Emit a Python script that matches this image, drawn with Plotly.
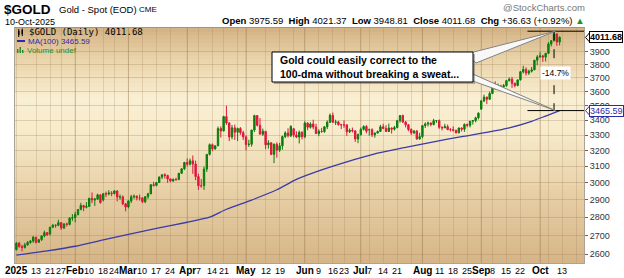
import math
import pandas as pd
import plotly.graph_objects as go

# ---------------- DATA ----------------
holidays = ["2025-01-20", "2025-02-17", "2025-04-18", "2025-05-26",
            "2025-06-19", "2025-07-04", "2025-09-01"]

opens = [
    2624, 2658, 2640, 2636, 2649, 2662, 2670, 2690, 2663, 2677, 2697, 2715, 2708, 2745, 2755, 2755, 2770, 2740, 2763, 2760, 2795,
    2798, 2815, 2843, 2866, 2856, 2861, 2908, 2898, 2903, 2928, 2898, 2935, 2933, 2939, 2936, 2951, 2915, 2916, 2876,
    2858, 2893, 2917, 2920, 2910, 2910, 2888, 2917, 2934, 2988, 2984, 3001, 3034, 3048, 3044, 3023, 3011, 3020, 3019, 3057, 3085,
    3124, 3113, 3134, 3114, 3037, 2982, 2982, 3083, 3175, 3237, 3210, 3230, 3343, 3327, 3424, 3381, 3288, 3348, 3319, 3344, 3316,
    3288, 3238, 3240, 3333, 3431, 3365, 3306, 3325, 3236, 3249, 3175, 3240, 3202, 3230, 3290, 3314, 3295, 3342, 3300, 3287, 3318,
    3289, 3380, 3352, 3374, 3353, 3310, 3325, 3323, 3355, 3386, 3433, 3385, 3388, 3370, 3368, 3368, 3322, 3332, 3328, 3274,
    3303, 3338, 3357, 3336, 3336, 3302, 3313, 3324, 3355, 3344, 3324, 3347, 3339, 3350, 3396, 3431, 3387, 3368, 3337, 3314, 3326, 3275,
    3290, 3363, 3374, 3380, 3370, 3396, 3397, 3352, 3348, 3356, 3336, 3336, 3332, 3315, 3347, 3339, 3371, 3365, 3393, 3397, 3416,
    3476, 3533, 3560, 3545, 3586, 3636, 3627, 3640, 3634, 3643, 3679, 3690, 3660, 3644, 3685, 3746, 3763, 3736, 3749, 3760, 3833,
    3858, 3866, 3857, 3886, 3960, 3985, 4040, 3975.59,
]
highs = [
    2665, 2665, 2650, 2660, 2670, 2675, 2697, 2692, 2680, 2700, 2726, 2718, 2746, 2763, 2760, 2786, 2772, 2765, 2770, 2800, 2817,
    2830, 2845, 2882, 2870, 2886, 2910, 2942, 2910, 2935, 2930, 2938, 2947, 2955, 2950, 2956, 2955, 2930, 2925, 2880,
    2895, 2928, 2930, 2925, 2930, 2915, 2921, 2940, 2990, 3005, 3002, 3038, 3050, 3057, 3048, 3025, 3025, 3030, 3060, 3087, 3128,
    3149, 3148, 3168, 3136, 3055, 3022, 3099, 3177, 3245, 3245, 3233, 3357, 3358, 3430, 3500, 3386, 3367, 3370, 3350, 3353, 3328,
    3297, 3269, 3335, 3437, 3435, 3414, 3343, 3325, 3266, 3253, 3245, 3252, 3249, 3296, 3325, 3345, 3366, 3345, 3325, 3330, 3325,
    3392, 3385, 3385, 3403, 3375, 3338, 3348, 3360, 3398, 3446, 3452, 3403, 3395, 3375, 3398, 3370, 3344, 3350, 3330, 3310,
    3350, 3365, 3366, 3343, 3345, 3317, 3330, 3368, 3375, 3366, 3377, 3350, 3361, 3402, 3434, 3438, 3395, 3373, 3345, 3334, 3334, 3315,
    3363, 3385, 3390, 3385, 3409, 3400, 3405, 3358, 3375, 3370, 3346, 3358, 3335, 3350, 3351, 3378, 3376, 3394, 3398, 3423, 3453,
    3540, 3578, 3564, 3600, 3643, 3674, 3658, 3649, 3655, 3685, 3703, 3707, 3665, 3687, 3749, 3791, 3779, 3761, 3782, 3835, 3872,
    3895, 3875, 3889, 3975, 3990, 4062, 4045, 4021.37,
]
lows = [
    2620, 2635, 2615, 2630, 2645, 2655, 2660, 2656, 2660, 2670, 2690, 2697, 2700, 2740, 2742, 2750, 2730, 2735, 2748, 2755, 2780,
    2772, 2810, 2840, 2834, 2850, 2858, 2880, 2864, 2900, 2877, 2890, 2915, 2925, 2920, 2930, 2890, 2900, 2868, 2833,
    2850, 2880, 2905, 2896, 2895, 2880, 2880, 2905, 2932, 2977, 2978, 2999, 3022, 3025, 2999, 3003, 3005, 3011, 3015, 3055, 3077,
    3100, 3106, 3054, 3015, 2957, 2970, 2957, 3065, 3168, 3195, 3205, 3228, 3284, 3325, 3368, 3260, 3272, 3268, 3261, 3302, 3268,
    3202, 3223, 3225, 3320, 3357, 3306, 3295, 3208, 3212, 3170, 3120, 3154, 3190, 3205, 3280, 3285, 3287, 3285, 3280, 3245, 3272,
    3280, 3332, 3343, 3338, 3307, 3293, 3315, 3315, 3340, 3380, 3383, 3367, 3362, 3340, 3348, 3295, 3313, 3317, 3255, 3247,
    3297, 3330, 3311, 3296, 3287, 3283, 3310, 3320, 3340, 3320, 3320, 3310, 3330, 3345, 3383, 3381, 3351, 3325, 3301, 3308, 3268, 3270,
    3280, 3347, 3357, 3358, 3365, 3381, 3341, 3331, 3347, 3333, 3324, 3323, 3311, 3312, 3324, 3321, 3352, 3351, 3370, 3385, 3405,
    3470, 3525, 3511, 3540, 3581, 3613, 3620, 3613, 3630, 3635, 3675, 3627, 3630, 3638, 3681, 3732, 3717, 3722, 3740, 3758, 3794,
    3852, 3820, 3823, 3880, 3940, 3980, 3945, 3948.81,
]
closes = [
    2658, 2640, 2636, 2649, 2662, 2670, 2690, 2663, 2677, 2697, 2715, 2703, 2745, 2755, 2755, 2770, 2740, 2763, 2760, 2795, 2798,
    2815, 2843, 2866, 2856, 2861, 2908, 2898, 2903, 2928, 2883, 2935, 2933, 2939, 2936, 2951, 2915, 2916, 2876, 2858,
    2893, 2917, 2920, 2910, 2910, 2888, 2917, 2934, 2988, 2984, 3001, 3034, 3048, 3044, 3023, 3011, 3020, 3019, 3057, 3085, 3124,
    3113, 3134, 3114, 3037, 2982, 2982, 3083, 3175, 3237, 3210, 3230, 3343, 3327, 3424, 3381, 3288, 3348, 3319, 3344, 3316, 3288,
    3238, 3240, 3333, 3431, 3365, 3306, 3325, 3236, 3249, 3175, 3240, 3202, 3230, 3290, 3314, 3295, 3357, 3300, 3287, 3318, 3289,
    3380, 3352, 3374, 3353, 3310, 3325, 3323, 3355, 3386, 3433, 3385, 3388, 3370, 3368, 3368, 3322, 3332, 3328, 3274, 3303,
    3338, 3357, 3326, 3336, 3302, 3313, 3324, 3355, 3344, 3324, 3347, 3339, 3350, 3396, 3431, 3387, 3368, 3337, 3314, 3326, 3275, 3290,
    3363, 3374, 3380, 3370, 3396, 3397, 3352, 3348, 3356, 3336, 3336, 3332, 3315, 3347, 3339, 3371, 3365, 3393, 3397, 3416, 3448,
    3533, 3560, 3545, 3586, 3636, 3627, 3640, 3634, 3643, 3679, 3690, 3660, 3644, 3685, 3746, 3763, 3736, 3749, 3760, 3833, 3858,
    3866, 3857, 3886, 3960, 3985, 4040, 3975.05, 4011.68,
]

ma_dates = ["2025-01-02", "2025-01-17", "2025-02-03", "2025-02-18", "2025-03-03", "2025-03-17",
            "2025-04-01", "2025-04-11", "2025-04-22", "2025-05-05", "2025-05-16", "2025-05-28",
            "2025-06-10", "2025-06-24", "2025-07-09", "2025-07-24", "2025-08-07", "2025-08-21",
            "2025-09-04", "2025-09-16", "2025-09-26", "2025-10-03", "2025-10-10"]
ma_values = [2596, 2618, 2642, 2676, 2705, 2738, 2772, 2800, 2845, 2898, 2958, 3020,
             3078, 3128, 3178, 3220, 3256, 3290, 3318, 3348, 3392, 3428, 3465.59]

tick_dates = ["2025-01-02", "2025-01-13", "2025-01-21", "2025-01-27", "2025-02-03", "2025-02-10",
              "2025-02-18", "2025-02-24", "2025-03-03", "2025-03-10", "2025-03-17", "2025-03-24",
              "2025-04-01", "2025-04-07", "2025-04-14", "2025-04-21", "2025-05-01", "2025-05-12",
              "2025-05-19", "2025-06-02", "2025-06-09", "2025-06-16", "2025-06-23", "2025-07-01",
              "2025-07-07", "2025-07-14", "2025-07-21", "2025-08-01", "2025-08-11", "2025-08-18",
              "2025-08-25", "2025-09-02", "2025-09-08", "2025-09-15", "2025-09-22", "2025-10-01",
              "2025-10-13"]
tick_texts = ["2025", "13", "21", "27", "Feb", "10", "18", "24", "Mar", "10", "17", "24",
              "Apr", "7", "14", "21", "May", "12", "19", "Jun", "9", "16", "23",
              "Jul", "7", "14", "21", "Aug", "11", "18", "25", "Sep", "8", "15", "22",
              "Oct", "13"]
y_ticks = [2600, 2700, 2800, 2900, 3000, 3100, 3200, 3300, 3400, 3500, 3600, 3700, 3800, 3900]

# ---------------- INDEXING ----------------
trading_days = [d.strftime("%Y-%m-%d") for d in pd.bdate_range("2025-01-02", "2025-10-24")
                if d.strftime("%Y-%m-%d") not in holidays]
pos = {d: i for i, d in enumerate(trading_days)}
n = len(closes)
assert len(opens) == len(highs) == len(lows) == n
xs = list(range(n))

# ---------------- GEOMETRY ----------------
W, H = 624, 278
ML, MR, MT, MB = 15, 40, 28, 15
PW, PH = W - ML - MR, H - MT - MB
X0, X1 = -0.5, 202.7
Y0, Y1 = 2555.0, 4088.0
LY0, LY1 = math.log10(Y0), math.log10(Y1)


def px2x(px):          # pixel column -> x data (linear index axis)
    return X0 + (px - ML) / PW * (X1 - X0)


def pxp(px):           # pixel column -> paper x
    return (px - ML) / PW


def pyp(py):           # pixel row -> paper y
    return (H - MB - py) / PH


def vyp(v):            # price value -> paper y (log axis)
    return (math.log10(v) - LY0) / (LY1 - LY0)


FONT = "Liberation Sans, Arial, sans-serif"
MONO = "DejaVu Sans Mono, monospace"

fig = go.Figure()
fig.add_trace(go.Candlestick(
    x=xs, open=opens, high=highs, low=lows, close=closes,
    increasing=dict(line=dict(color="#0a7d0a", width=1), fillcolor="#0a7d0a"),
    decreasing=dict(line=dict(color="#e0163c", width=1), fillcolor="#e0163c"),
    whiskerwidth=0, hoverinfo="skip", showlegend=False,
))
fig.add_trace(go.Scatter(
    x=[pos[d] for d in ma_dates], y=ma_values, mode="lines", line_shape="spline",
    line=dict(color="#3b3ba6", width=1.3, smoothing=0.6), hoverinfo="skip", showlegend=False,
))

shapes = []
# gradient background bands
stops = [(0.0, (211, 178, 131)), (0.12, (232, 209, 167)), (0.3, (249, 239, 210)),
         (0.45, (247, 235, 203)), (0.7, (231, 207, 166)), (1.0, (213, 181, 135))]


def shade(f):
    for (a, ca), (b, cb) in zip(stops[:-1], stops[1:]):
        if a <= f <= b:
            t = (f - a) / (b - a)
            return tuple(round(ca[k] + (cb[k] - ca[k]) * t) for k in range(3))
    return stops[-1][1]


NB = 60
for i in range(NB):
    f = 1 - (i + 0.5) / NB
    c = shade(f)
    shapes.append(dict(type="rect", xref="paper", yref="paper", x0=0, x1=1,
                       y0=i / NB, y1=(i + 1) / NB + 0.002, line=dict(width=0),
                       fillcolor="rgb(%d,%d,%d)" % c, layer="below"))

# weekly & monthly gridlines
week_starts, month_starts = [], []
prev = None
for i, d in enumerate(trading_days):
    dt = pd.Timestamp(d)
    if prev is None or dt.isocalendar()[1] != prev.isocalendar()[1]:
        week_starts.append(i)
    if prev is None or dt.month != prev.month:
        month_starts.append(i)
    prev = dt
grid_x = sorted(set(month_starts) | {w for w in week_starts
                                      if all(abs(w - m) > 2 for m in month_starts)})
grid_x = [g for g in grid_x if g <= X1]
for m in month_starts:
    if 0 < m <= X1:
        shapes.append(dict(type="line", xref="x", yref="paper", x0=m, x1=m, y0=0, y1=1,
                           line=dict(color="rgba(140,105,60,0.30)", width=1), layer="below"))

# measurement lines
i_high = max(range(n), key=lambda i: highs[i])
hi = highs[i_high]
ma_last = ma_values[-1]
x_line0 = i_high - 9.5
shapes.append(dict(type="line", xref="x", yref="paper", x0=x_line0, x1=X1,
                   y0=vyp(hi), y1=vyp(hi), line=dict(color="black", width=1)))
shapes.append(dict(type="line", xref="x", yref="paper", x0=x_line0, x1=X1,
                   y0=vyp(ma_last), y1=vyp(ma_last), line=dict(color="black", width=1)))
shapes.append(dict(type="line", xref="x", yref="paper", x0=i_high, x1=i_high,
                   y0=vyp(hi), y1=vyp(ma_last),
                   line=dict(color="black", width=1, dash="dash")))


def path(pts):
    return "M " + " L ".join("%f,%f" % p for p in pts) + " Z"


# callout wedges
tip_x = i_high + 0.5
shapes.append(dict(type="path", xref="x", yref="paper",
                   path=path([(px2x(466), pyp(54)), (tip_x, vyp(hi)), (px2x(476), pyp(63))]),
                   fillcolor="rgb(248,248,248)", line=dict(color="rgb(130,130,130)", width=1)))
shapes.append(dict(type="path", xref="x", yref="paper",
                   path=path([(px2x(466), pyp(71)), (tip_x, vyp(ma_last)), (px2x(470), pyp(80))]),
                   fillcolor="rgb(248,248,248)", line=dict(color="rgb(130,130,130)", width=1)))
# callout box + shadow
shapes.append(dict(type="rect", xref="x", yref="paper", x0=px2x(274), x1=px2x(475),
                   y0=pyp(84), y1=pyp(54), fillcolor="rgba(90,90,90,0.45)", line=dict(width=0)))
shapes.append(dict(type="rect", xref="x", yref="paper", x0=px2x(272), x1=px2x(473),
                   y0=pyp(82), y1=pyp(52), fillcolor="white", line=dict(color="black", width=1)))

# legend icons (top-left)
shapes.append(dict(type="line", xref="paper", yref="paper", x0=pxp(17), x1=pxp(25), y0=pyp(41), y1=pyp(41),
                   line=dict(color="#2b2bab", width=2)))
for k, hgt in enumerate([4, 6, 3]):
    shapes.append(dict(type="rect", xref="paper", yref="paper", x0=pxp(17 + 2.5 * k), x1=pxp(18.5 + 2.5 * k),
                       y0=pyp(53), y1=pyp(53 - hgt), fillcolor="#2e8b2e", line=dict(width=0)))
for k, (a, b, c, d) in enumerate([(29, 37, 31, 35), (28.5, 36, 30, 34)]):
    xx = 18 + 3.5 * k
    shapes.append(dict(type="line", xref="paper", yref="paper", x0=pxp(xx + 0.75), x1=pxp(xx + 0.75),
                       y0=pyp(a), y1=pyp(b), line=dict(color="black", width=1)))
    shapes.append(dict(type="rect", xref="paper", yref="paper", x0=pxp(xx), x1=pxp(xx + 1.5),
                       y0=pyp(c), y1=pyp(d), fillcolor="black", line=dict(width=0)))

# right price label notches
for val, col in [(closes[-1], "black"), (ma_last, "#2b2bab")]:
    yc = vyp(val)
    dy = 4.5 / PH
    shapes.append(dict(type="path", xref="paper", yref="paper",
                       path=path([(pxp(589.5), yc + dy), (pxp(585.5), yc), (pxp(589.5), yc - dy)]),
                       fillcolor="white", line=dict(color=col, width=1)))

anns = []


def ann(text, px, py, size, color="black", xanchor="left", family=FONT, **kw):
    anns.append(dict(text=text, x=pxp(px), y=pyp(py), xref="paper", yref="paper",
                     xanchor=xanchor, yanchor="middle", showarrow=False,
                     font=dict(size=size, color=color, family=family), **kw))


ann("<b>$GOLD</b>", 2, 9.5, 13.5)
ann("Gold - Spot (EOD)", 57, 9.5, 9.5)
ann("CME", 137, 10, 8)
ann("10-Oct-2025", 3, 22, 9)
chg = closes[-1] - closes[-2]
pct = chg / closes[-2] * 100
ann("<b>Open</b> %.2f  <b>High</b> %.2f  <b>Low</b> %.2f  <b>Close</b> %.2f  <b>Chg</b> %+.2f (%+.2f%%) "
    "<span style='color:#1a9a1a'>▲</span>" % (opens[-1], highs[-1], lows[-1], closes[-1], chg, pct),
    587, 20.5, 9.5, xanchor="right")
ann("@StockCharts.com", 587, 7.5, 9.5, color="#777777", xanchor="right")

ann("$GOLD (Daily) %.2f" % closes[-1], 27, 32.5, 9, family=MONO)
ann("MA(100) %.2f" % ma_last, 26, 41.5, 8, color="#2b2bab")
ann("Volume undef", 25, 50.5, 8, color="#2e8b2e")

# x-axis labels
for d, t in zip(tick_dates, tick_texts):
    is_month = not t.isdigit() or len(t) == 4
    anns.append(dict(text=("<b>%s</b>" % t) if is_month else t, x=pos[d], y=pyp(270.5),
                     xref="x", yref="paper", xanchor="center", yanchor="middle", showarrow=False,
                     font=dict(size=10 if is_month else 9, color="black", family=FONT)))

# callout text
anns.append(dict(text="<b>Gold could easily correct to the<br>100-dma without breaking a sweat...</b>",
                 x=px2x(278), y=pyp(67), xref="x", yref="paper", xanchor="left", yanchor="middle",
                 showarrow=False, align="left",
                 font=dict(size=10.5, color="black", family=FONT)))
# percent label
anns.append(dict(text="%.1f%%" % ((ma_last / hi - 1) * 100), x=i_high + 0.5, y=pyp(72.5),
                 xref="x", yref="paper", xanchor="center", yanchor="middle", showarrow=False,
                 bgcolor="white", borderpad=1, font=dict(size=8.5, color="black", family=FONT)))
# right value labels
anns.append(dict(text="<b>%.2f</b>" % closes[-1], x=pxp(589), y=vyp(closes[-1]), xref="paper",
                 yref="paper", xanchor="left", yanchor="middle", showarrow=False, bgcolor="white",
                 bordercolor="black", borderwidth=1, borderpad=0,
                 font=dict(size=9, color="black", family=FONT)))
anns.append(dict(text="%.2f" % ma_last, x=pxp(589), y=vyp(ma_last), xref="paper",
                 yref="paper", xanchor="left", yanchor="middle", showarrow=False, bgcolor="white",
                 bordercolor="#2b2bab", borderwidth=1, borderpad=0,
                 font=dict(size=9, color="#2b2bab", family=FONT)))

fig.update_layout(
    width=W, height=H, margin=dict(l=ML, r=MR, t=MT, b=MB, pad=0),
    paper_bgcolor="white", plot_bgcolor="rgb(240,225,190)",
    shapes=shapes, annotations=anns, showlegend=False,
    xaxis=dict(range=[X0, X1], rangeslider=dict(visible=False), tickmode="array",
               tickvals=grid_x, showticklabels=False,
               showgrid=True, gridcolor="rgba(150,120,80,0.22)", gridwidth=1,
               zeroline=False, ticks="",
               showline=True, linecolor="rgba(120,100,80,0.6)", linewidth=1, mirror=True,
               fixedrange=True),
    yaxis=dict(type="log", range=[LY0, LY1], side="right", tickmode="array",
               tickvals=y_ticks, ticktext=[str(v) for v in y_ticks],
               showgrid=True, gridcolor="rgba(150,120,80,0.28)", gridwidth=1,
               ticks="outside", ticklen=3, tickcolor="#666",
               tickfont=dict(size=9, color="#333", family=FONT),
               showline=True, linecolor="rgba(120,100,80,0.6)", linewidth=1, mirror=True,
               zeroline=False, fixedrange=True),
)

fig.write_html("out.html")
